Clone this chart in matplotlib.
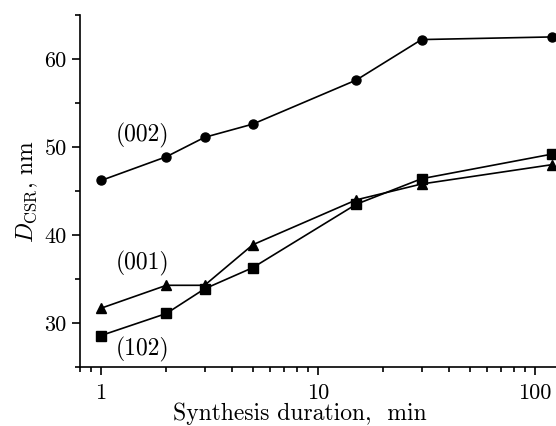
import numpy as np
import matplotlib
matplotlib.use("Agg")
import matplotlib.pyplot as plt
from matplotlib.ticker import MultipleLocator, FixedLocator, FixedFormatter

plt.rcParams['font.family'] = ['cmr10']
plt.rcParams['mathtext.fontset'] = 'cm'
plt.rcParams['axes.formatter.use_mathtext'] = True

# Synthesis duration, min
duration = [1, 2, 3, 5, 15, 30, 120]
# crystallite size, nm
d_002 = [46.2, 48.9, 51.1, 52.6, 57.6, 62.2, 62.5]
d_001 = [31.7, 34.3, 34.3, 38.9, 44.0, 45.8, 48.0]
d_102 = [28.6, 31.1, 33.9, 36.3, 43.5, 46.4, 49.2]

fig = plt.figure(figsize=(5.56, 4.26), dpi=100)
ax = fig.add_axes([0.144, 0.138, 0.856, 0.827])

ax.plot(duration, d_002, '-o', color='black', lw=1.2, ms=6.5)
ax.plot(duration, d_001, '-^', color='black', lw=1.2, ms=7.5)
ax.plot(duration, d_102, '-s', color='black', lw=1.2, ms=6.5)

ax.set_xscale('log')
ax.set_xlim(0.8, 125)
ax.set_ylim(25, 65)

ax.xaxis.set_major_locator(FixedLocator([1, 10, 100]))
ax.xaxis.set_major_formatter(FixedFormatter(['1', '10', '100']))
ax.yaxis.set_major_locator(FixedLocator([30, 40, 50, 60]))
ax.yaxis.set_major_formatter(FixedFormatter(['30', '40', '50', '60']))
ax.yaxis.set_minor_locator(MultipleLocator(5))

ax.spines['top'].set_visible(False)
ax.spines['right'].set_visible(False)
ax.spines['left'].set_linewidth(1.2)
ax.spines['bottom'].set_linewidth(1.2)
ax.tick_params(which='major', direction='out', length=6, width=1.2, labelsize=16)
ax.tick_params(which='minor', direction='out', length=3.5, width=1.2)
ax.tick_params(axis='x', which='major', pad=6)

ax.text(1.17, 50.6, '(002)', fontsize=17)
ax.text(1.17, 36.1, '(001)', fontsize=17)
ax.text(1.17, 26.3, '(102)', fontsize=17)

ax.set_xlabel('Synthesis duration,  min', fontsize=17, labelpad=0)
ax.xaxis.set_label_coords(0.462, -0.163)
ax.xaxis.label.set_va('bottom')
ax.set_ylabel(r'$D_{\rm CSR}$, nm', fontsize=17, labelpad=3)

fig.savefig('out.png', dpi=100)
